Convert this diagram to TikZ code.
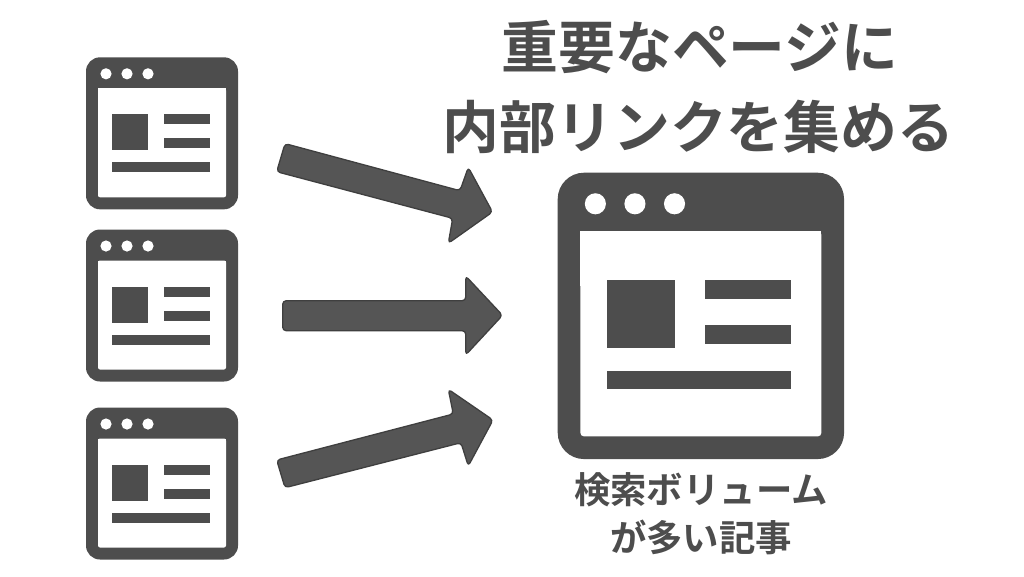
\documentclass[tikz,border=0pt]{standalone}
\usepackage{fontspec}
\setmainfont{Noto Sans CJK JP}[BoldFont={* Bold}]
\definecolor{ink}{HTML}{4D4D4D}
\definecolor{arrowfill}{HTML}{555555}
\definecolor{arrowline}{HTML}{3F3F3F}
\definecolor{textink}{HTML}{4D4D4D}
\tikzset{
  bigarrow/.style={fill=arrowfill,draw=arrowline,line width=1.3pt,rounded corners=3.5pt,line join=round},
  titletext/.style={font=\bfseries\fontsize{56.8}{56.8}\selectfont,text=textink,inner sep=0pt,anchor=center},
  captext/.style={font=\bfseries\fontsize{36.4}{36.4}\selectfont,text=textink,inner sep=0pt,anchor=center}
}
% #1 left, #2 top, #3 scale (1 = 152 px wide)
\newcommand{\browsericon}[3]{%
  \begin{scope}[shift={(#1,#2)},x=#3pt,y=-#3pt]
    \fill[ink,rounded corners=#3*14pt] (0,0) rectangle (152,152);
    \fill[white,rounded corners=#3*2pt] (12,31) rectangle (140,140);
    \fill[white] (12,31) rectangle (140,60);
    \fill[white] (20,16.5) circle (5.6);
    \fill[white] (41,16.5) circle (5.6);
    \fill[white] (62,16.5) circle (5.6);
    \fill[ink] (26,57) rectangle (62,93);
    \fill[ink] (78,57) rectangle (124,67);
    \fill[ink] (78,81) rectangle (124,91);
    \fill[ink] (26,105) rectangle (124,115);
  \end{scope}}
\begin{document}
\begin{tikzpicture}[x=1pt,y=-1pt]
\useasboundingbox (0,0) rectangle (1024,576);
\fill[white] (0,0) rectangle (1024,576);
\browsericon{86}{57.3}{1}
\browsericon{86}{229.5}{1}
\browsericon{86}{407.5}{1}
\browsericon{557.7}{172.7}{1.884}
\draw[bigarrow] (285,143.6) -- (460,190.7) -- (468.3,167.3) -- (492.5,212) -- (448.3,243.3) -- (452.7,218.3) -- (276.7,171.7) -- cycle;
\draw[bigarrow] (282.7,300.7) -- (465.7,300.7) -- (465.7,276) -- (502.5,315.3) -- (465.7,355) -- (465.7,330.7) -- (282.7,330.7) -- cycle;
\draw[bigarrow] (276.7,460) -- (453.3,414) -- (448.3,389.3) -- (493,420) -- (468.3,466) -- (461,442.7) -- (285,487.7) -- cycle;
\node[titletext] (title1) at (700,47) {重要なページに};
\node[titletext] (title2) at (698.5,126.5) {内部リンクを集める};
\node[captext] (cap1) at (701,490) {検索ボリューム};
\node[captext] (cap2) at (701,537) {が多い記事};
\end{tikzpicture}
\end{document}
